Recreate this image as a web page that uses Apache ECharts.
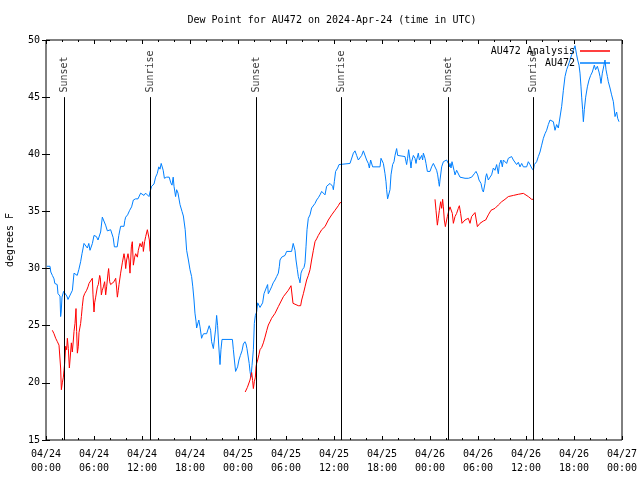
<!DOCTYPE html>
<html>
<head>
<meta charset="utf-8">
<script src="https://cdn.jsdelivr.net/npm/echarts@6/dist/echarts.min.js"></script>
<style>html,body{margin:0;padding:0;background:#fff}#c{width:640px;height:480px}</style>
</head>
<body>
<div id="c"></div>
<script>
// Hours since 2024-04-24 00:00 UTC
const xTickLabels = ['04/24\n00:00','04/24\n06:00','04/24\n12:00','04/24\n18:00','04/25\n00:00','04/25\n06:00','04/25\n12:00','04/25\n18:00','04/26\n00:00','04/26\n06:00','04/26\n12:00','04/26\n18:00','04/27\n00:00'];
const yTicks = [15,20,25,30,35,40,45,50];
const sunTimes = [2.3, 13.0, 26.3, 36.92, 50.3, 60.92];
const sunLabels = ['Sunset','Sunrise','Sunset','Sunrise','Sunset','Sunrise'];

// AU472 observations [hour, dew point F]
const au472 = [
[0.1,30.2],[0.5,30.2],[0.6,29.7],[0.8,29.4],[1.0,29.1],[1.1,28.7],[1.4,28.6],[1.5,27.8],[1.75,27.6],[1.83,25.8],[1.9,26.2],[2.0,27.5],[2.2,28.0],[2.4,28.1],[2.6,27.6],[2.75,27.3],[3.0,27.4],[3.3,28.1],[3.5,29.6],[3.7,29.6],[3.9,29.4],[4.1,29.9],[4.33,30.6],[4.5,31.3],[4.75,32.2],[4.95,32.3],[5.17,31.8],[5.35,32.2],[5.5,31.6],[5.8,32.2],[6.0,32.9],[6.3,32.8],[6.5,32.5],[6.83,33.2],[7.04,34.5],[7.25,34.5],[7.45,33.8],[7.67,33.3],[8.08,33.4],[8.25,33.3],[8.4,32.7],[8.55,31.9],[8.7,31.8],[8.9,31.9],[9.1,32.9],[9.33,33.7],[9.75,33.7],[9.85,34.2],[9.96,34.5],[10.2,34.7],[10.46,35.1],[10.7,35.4],[10.92,36.0],[11.2,36.1],[11.5,36.1],[11.7,36.0],[11.83,36.6],[12.0,36.6],[12.25,36.4],[12.45,36.6],[12.7,36.6],[12.875,36.3],[13.0,36.7],[13.2,37.2],[13.5,37.4],[13.7,38.0],[13.9,38.3],[14.1,38.9],[14.25,38.7],[14.4,39.2],[14.55,39.3],[14.65,38.6],[14.8,37.9],[15.08,38.0],[15.4,38.0],[15.5,38.1],[15.6,37.5],[15.75,37.3],[15.9,38.0],[16.0,37.2],[16.2,36.3],[16.33,36.9],[16.5,36.6],[16.75,35.6],[17.0,35.0],[17.17,34.6],[17.4,33.4],[17.58,31.6],[17.8,30.75],[18.0,29.9],[18.2,29.3],[18.35,28.4],[18.5,27.25],[18.62,26.1],[18.75,25.4],[18.83,24.8],[19.0,24.9],[19.1,25.5],[19.25,24.9],[19.45,23.9],[19.55,24.1],[19.7,24.3],[20.08,24.3],[20.3,24.4],[20.4,25.0],[20.58,24.6],[20.7,23.6],[20.92,23.0],[21.05,23.0],[21.2,24.7],[21.33,25.9],[21.45,25.0],[21.58,23.4],[21.75,21.6],[21.87,22.9],[22.0,23.8],[22.5,23.8],[23.0,23.8],[23.3,23.8],[23.42,22.9],[23.55,22.0],[23.7,21.0],[23.83,21.0],[23.95,21.4],[24.12,22.0],[24.3,22.4],[24.5,22.8],[24.67,23.4],[24.87,23.6],[25.0,23.4],[25.12,23.0],[25.4,21.7],[25.5,21.0],[25.62,20.5],[25.75,21.5],[25.92,22.9],[26.04,25.2],[26.17,25.9],[26.33,26.2],[26.46,27.0],[26.6,27.0],[26.75,26.6],[26.95,26.6],[27.08,27.0],[27.25,27.8],[27.375,27.8],[27.58,28.4],[27.7,28.6],[27.79,27.8],[28.0,28.1],[28.2,28.4],[28.4,28.75],[28.625,29.0],[28.83,29.3],[29.04,29.6],[29.17,30.2],[29.25,30.75],[29.46,31.0],[29.875,31.15],[30.08,31.5],[30.7,31.5],[30.9,32.2],[31.04,32.35],[31.125,31.6],[31.25,30.75],[31.42,29.9],[31.54,29.3],[31.67,29.0],[31.75,28.75],[31.875,29.6],[32.04,29.9],[32.25,30.1],[32.375,30.5],[32.5,31.9],[32.625,33.4],[32.79,34.4],[33.0,34.7],[33.2,35.3],[33.42,35.4],[33.625,35.7],[33.83,36.0],[34.04,36.2],[34.25,36.45],[34.46,36.75],[34.67,36.6],[34.875,36.45],[35.08,37.2],[35.29,37.3],[35.5,37.45],[35.71,37.6],[35.83,37.2],[35.92,36.9],[36.04,37.6],[36.2,38.5],[36.46,38.8],[36.625,39.1],[36.875,39.2],[38.0,39.2],[38.2,39.35],[38.42,40.1],[38.625,40.3],[38.83,39.9],[39.04,39.5],[39.25,39.5],[39.46,39.9],[39.67,40.3],[39.875,40.2],[40.08,39.5],[40.29,39.2],[40.42,38.8],[40.58,39.5],[40.7,39.35],[40.83,38.9],[41.125,38.9],[41.75,38.9],[41.875,39.65],[42.08,39.65],[42.17,39.2],[42.375,38.3],[42.5,37.6],[42.58,36.9],[42.7,36.1],[42.92,36.1],[43.0,36.9],[43.125,38.2],[43.33,39.1],[43.5,39.35],[43.625,39.9],[43.83,40.5],[43.96,39.9],[44.17,39.8],[44.875,39.8],[45.0,39.35],[45.08,39.1],[45.2,39.65],[45.33,40.4],[45.5,39.5],[45.625,38.8],[45.7,39.35],[45.92,39.9],[46.125,39.65],[46.25,39.2],[46.33,39.5],[46.54,40.1],[46.67,39.5],[46.83,39.35],[46.96,39.9],[47.08,39.5],[47.17,40.1],[47.375,39.65],[47.5,39.2],[47.67,38.5],[48.0,38.5],[48.2,38.9],[48.42,39.2],[48.625,39.2],[48.83,38.6],[48.96,38.2],[49.08,37.6],[49.17,37.2],[49.25,37.75],[49.46,38.9],[49.67,39.35],[49.875,39.4],[50.08,39.5],[50.29,39.2],[50.42,38.9],[50.5,39.2],[50.625,38.8],[50.75,39.35],[50.83,39.5],[51.0,38.6],[51.125,38.2],[51.33,38.6],[51.54,38.5],[51.75,38.0],[51.96,38.0],[52.375,37.9],[52.58,38.0],[52.8,37.9],[52.95,38.0],[53.21,38.0],[53.54,38.3],[53.75,38.5],[53.96,38.2],[54.125,37.75],[54.375,37.45],[54.54,36.9],[54.67,36.7],[54.875,37.45],[54.96,38.0],[55.08,38.3],[55.29,37.75],[55.5,38.0],[55.7,38.2],[55.92,38.8],[56.125,38.6],[56.33,39.1],[56.54,38.3],[56.67,39.1],[56.875,39.5],[57.04,38.9],[57.17,39.5],[57.375,39.65],[57.58,39.2],[57.79,39.65],[58.0,39.5],[58.2,39.8],[58.42,39.5],[58.625,39.35],[58.83,39.1],[59.04,39.3],[59.25,38.9],[59.46,39.2],[59.67,38.9],[59.875,38.8],[60.08,38.9],[60.29,39.35],[60.5,39.1],[60.71,38.8],[60.92,38.6],[61.04,39.1],[61.33,39.35],[61.54,39.8],[61.75,40.2],[61.96,40.8],[62.17,41.4],[62.375,41.8],[62.58,42.1],[62.79,42.6],[63.0,43.0],[63.2,43.0],[63.42,42.85],[63.625,42.1],[63.83,42.6],[64.04,42.3],[64.25,42.4],[64.46,44.2],[64.67,45.6],[64.875,46.8],[65.08,47.4],[65.29,47.8],[65.5,48.25],[65.7,48.7],[65.92,49.1],[66.125,49.5],[66.25,49.4],[66.33,48.7],[66.46,48.25],[66.625,47.8],[66.75,47.1],[66.875,45.9],[66.96,45.0],[67.08,43.9],[67.17,42.85],[67.29,43.9],[67.46,45.0],[67.67,45.9],[67.875,46.5],[68.08,46.9],[68.29,47.2],[68.54,47.8],[68.7,47.4],[68.92,47.7],[69.125,47.2],[69.25,46.8],[69.375,46.2],[69.54,47.1],[69.75,47.8],[69.875,48.25],[70.0,47.4],[70.17,46.8],[70.29,46.35],[70.5,45.8],[70.7,45.2],[70.92,44.6],[71.125,43.3],[71.33,43.7],[71.46,43.15],[71.625,42.85]
];

// AU472 Analysis [hour, dew point F] (three separate runs)
const analysis1 = [
[0.79,24.6],[1.0,24.3],[1.21,23.9],[1.42,23.6],[1.625,23.3],[1.75,23.2],[1.83,21.3],[1.92,19.4],[2.04,20.0],[2.17,20.5],[2.25,21.1],[2.33,21.7],[2.46,23.2],[2.58,22.9],[2.67,23.9],[2.79,23.0],[2.92,21.3],[3.0,22.0],[3.17,23.5],[3.29,22.7],[3.42,23.75],[3.5,24.5],[3.625,25.2],[3.75,26.5],[3.83,24.5],[3.92,22.6],[4.04,23.2],[4.125,24.4],[4.33,25.2],[4.42,25.8],[4.54,26.7],[4.67,27.5],[4.83,27.8],[5.08,28.1],[5.25,28.4],[5.375,28.7],[5.58,28.85],[5.79,29.15],[5.875,27.7],[6.0,26.2],[6.08,27.0],[6.21,27.5],[6.42,28.4],[6.54,28.6],[6.71,29.4],[6.79,29.2],[6.92,27.7],[7.04,28.1],[7.17,28.4],[7.33,28.85],[7.46,27.7],[7.58,28.4],[7.75,29.6],[7.83,30.0],[7.96,28.85],[8.08,28.6],[8.29,28.7],[8.5,28.85],[8.71,29.15],[8.83,28.3],[8.92,27.5],[9.04,28.1],[9.125,28.6],[9.33,29.6],[9.54,30.5],[9.75,31.3],[9.875,30.75],[9.96,30.0],[10.08,30.75],[10.25,31.3],[10.375,30.75],[10.5,29.6],[10.67,31.9],[10.79,32.35],[10.92,30.3],[11.08,31.0],[11.21,31.3],[11.42,31.0],[11.54,31.6],[11.75,32.2],[11.92,31.9],[12.08,32.35],[12.17,31.5],[12.33,32.35],[12.46,32.8],[12.67,33.4],[12.79,33.5],[12.92,32.5],[13.0,31.5]
];
const analysis2 = [
[24.9,19.2],[25.17,19.6],[25.5,20.25],[25.71,20.9],[25.83,20.2],[25.92,19.5],[26.04,20.1],[26.17,20.5],[26.25,21.4],[26.33,21.7],[26.46,22.0],[26.625,22.5],[26.75,22.9],[26.96,23.1],[27.17,23.5],[27.375,24.0],[27.6,24.6],[27.79,25.06],[28.0,25.35],[28.2,25.65],[28.625,26.08],[29.04,26.67],[29.46,27.25],[29.67,27.54],[29.875,27.69],[30.29,28.1],[30.625,28.5],[30.79,28.5],[30.875,26.96],[31.125,26.8],[31.54,26.75],[31.83,26.75],[31.96,27.25],[32.17,27.8],[32.375,28.4],[32.58,29.0],[32.79,29.4],[33.0,29.9],[33.2,30.75],[33.42,31.6],[33.625,32.35],[33.83,32.6],[34.04,32.9],[34.46,33.4],[34.875,33.67],[35.29,34.25],[35.71,34.7],[36.125,35.1],[36.54,35.5],[36.75,35.77],[36.875,35.77]
];
const analysis3 = [
[48.625,36.06],[48.75,35.1],[48.92,33.8],[49.04,34.4],[49.17,35.1],[49.33,35.85],[49.46,35.27],[49.58,36.06],[49.67,35.4],[49.79,34.25],[49.92,33.67],[50.08,34.25],[50.17,34.55],[50.33,35.0],[50.5,35.4],[50.625,35.56],[50.79,34.83],[50.92,33.96],[51.125,34.55],[51.33,34.83],[51.54,35.27],[51.67,35.5],[51.83,34.83],[52.0,33.96],[52.17,34.1],[52.375,34.25],[52.58,34.1],[52.79,34.4],[53.0,33.96],[53.2,34.55],[53.625,34.9],[53.75,35.0],[53.92,33.67],[54.25,33.96],[54.67,34.16],[54.96,34.25],[55.29,34.7],[55.625,35.1],[56.125,35.27],[56.54,35.56],[56.96,35.85],[57.375,36.06],[57.79,36.3],[58.42,36.4],[59.04,36.5],[59.67,36.58],[59.875,36.58],[60.29,36.3],[60.71,36.06],[60.92,36.06]
];

const FONT = "'DejaVu Sans Mono', monospace";
const LINE_BOTTOM = 15, LINE_TOP = 45, LABEL_BASE = 45.4;
const BLUE = '#0080ff', RED = '#ff0000';

const chart = echarts.init(document.getElementById('c'), null, {renderer: 'canvas'});
const textStyle = {fontFamily: FONT, fontSize: 10, color: '#000'};
const tickCommon = {show: true, inside: true, length: 4, lineStyle: {color: '#000', width: 1}};
const minorCommon = {show: true, splitNumber: 3, length: 2, lineStyle: {color: '#000', width: 1}};

const redLine = (data) => ({
  type: 'line', name: 'AU472 Analysis', data: data, showSymbol: false, symbol: 'none',
  lineStyle: {color: RED, width: 1}, itemStyle: {color: RED}, z: 3
});

chart.setOption({
  animation: false,
  backgroundColor: '#fff',
  title: {
    text: 'Dew Point for AU472 on 2024-Apr-24 (time in UTC)',
    left: 327, top: 10, textAlign: 'center',
    textStyle: {fontFamily: FONT, fontSize: 10, fontWeight: 'normal', color: '#000'}
  },
  legend: [
    {data: [{name: 'AU472 Analysis'}], right: 30, top: 46, align: 'right', orient: 'vertical', padding: 0,
     icon: 'rect', itemWidth: 30, itemHeight: 1.5, textStyle: textStyle, selectedMode: false},
    {data: [{name: 'AU472'}], right: 30, top: 58, align: 'right', orient: 'vertical', padding: 0,
     icon: 'rect', itemWidth: 30, itemHeight: 1.5, textStyle: textStyle, selectedMode: false}
  ],
  grid: {left: 46, right: 18, top: 40, bottom: 40, show: true, borderColor: '#000', borderWidth: 1,
         backgroundColor: '#fff', containLabel: false, outerBoundsMode: 'none'},
  xAxis: [
    {type: 'value', min: 0, max: 72, interval: 6, position: 'bottom',
     axisLine: {show: false}, axisTick: tickCommon, minorTick: minorCommon, splitLine: {show: false},
     axisLabel: {formatter: v => xTickLabels[Math.round(v / 6)], fontFamily: FONT, fontSize: 10, color: '#000', margin: 7, lineHeight: 14}},
    {type: 'value', min: 0, max: 72, interval: 6, position: 'top',
     axisLine: {show: false}, axisTick: tickCommon, minorTick: minorCommon, splitLine: {show: false},
     axisLabel: {show: false}}
  ],
  yAxis: [
    {type: 'value', min: yTicks[0], max: yTicks[yTicks.length - 1], interval: 5, position: 'left',
     name: 'degrees F', nameLocation: 'middle', nameRotate: 90, nameGap: 31,
     nameTextStyle: {fontFamily: FONT, fontSize: 10, color: '#000'},
     axisLine: {show: false}, axisTick: tickCommon, splitLine: {show: false},
     axisLabel: {fontFamily: FONT, fontSize: 10, color: '#000', margin: 6}},
    {type: 'value', min: yTicks[0], max: yTicks[yTicks.length - 1], interval: 5, position: 'right',
     axisLine: {show: false}, axisTick: tickCommon, splitLine: {show: false}, axisLabel: {show: false}}
  ],
  series: [
    redLine(analysis1), redLine(analysis2), redLine(analysis3),
    {type: 'line', name: 'AU472', data: au472, showSymbol: false, symbol: 'none',
     lineStyle: {color: BLUE, width: 1}, itemStyle: {color: BLUE}, z: 2},
    {type: 'scatter', name: 'sun', symbolSize: 0, silent: true, z: 4,
     data: sunTimes.map((t, i) => ({value: [t, LABEL_BASE], name: sunLabels[i]})),
     label: {show: true, position: 'inside', formatter: p => p.name, rotate: 90, align: 'left', verticalAlign: 'middle',
       fontFamily: FONT, fontSize: 10, color: '#000'},
     markLine: {symbol: ['none', 'none'], silent: true, label: {show: false},
       lineStyle: {color: '#000', width: 1, type: 'solid'},
       data: sunTimes.map(t => [{coord: [t, LINE_BOTTOM]}, {coord: [t, LINE_TOP]}])}
    }
  ]
});
</script>
</body>
</html>
